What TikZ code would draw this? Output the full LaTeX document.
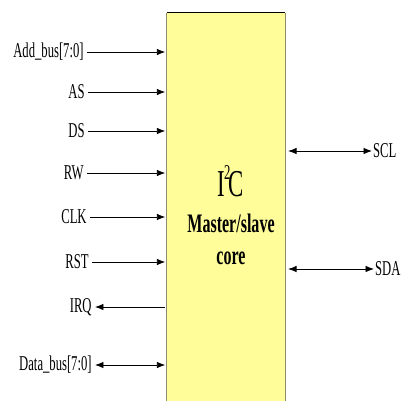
\documentclass[tikz,border=0pt]{standalone}
\usepackage{fontspec}
\setmainfont{Liberation Serif}[FakeStretch=0.6]
\usetikzlibrary{positioning,arrows.meta}
\definecolor{coreyellow}{RGB}{255,253,153}
\definecolor{edgegray}{RGB}{140,140,112}

\begin{document}
\begin{tikzpicture}[x=0.025cm,y=-0.025cm,
  corebox/.style={fill=coreyellow,minimum width=118*0.025cm,minimum height=388*0.025cm,inner sep=0pt},
  sig/.style={font=\fontsize{15}{17}\selectfont,inner sep=2.2pt},
  inarrow/.style={-{Latex[length=6pt,width=4.6pt]},line width=0.6pt},
  outarrow/.style={{Latex[length=6pt,width=4.6pt]}-,line width=0.6pt},
  bidir/.style={{Latex[length=6pt,width=4.6pt]}-{Latex[length=6pt,width=4.6pt]},line width=0.6pt},
  title/.style={font=\fontsize{27}{30}\selectfont},
  corelabel/.style={font=\fontsize{19}{22}\selectfont\bfseries}
]
  \useasboundingbox (0,0) rectangle (401,401);
  \node[corebox] (core) at (226,207) {};
  \draw[line width=0.7pt] (core.north west) -- (core.north east);
  \draw[edgegray,line width=0.7pt] (core.north west) -- (core.south west);
  \draw[edgegray,line width=0.7pt] (core.north east) -- (core.south east);

  \node[title] (ic) at (231,181) {I\kern-1pt\raisebox{0.45em}{\fontsize{15}{15}\selectfont 2}\kern-1pt C};
  \node[corelabel] (ms) at (231,223) {Master/slave};
  \node[corelabel] (cr) at (231,258) {core};

  \node[sig,anchor=east] (addbus) at (87,52) {Add\_bus[7:0]};
  \node[sig,anchor=east] (as) at (88,92) {AS};
  \node[sig,anchor=east] (ds) at (88,131) {DS};
  \node[sig,anchor=east] (rw) at (87,173) {RW};
  \node[sig,anchor=east] (clk) at (90,217) {CLK};
  \node[sig,anchor=east] (rst) at (92,262) {RST};
  \node[sig,anchor=east] (irq) at (95,307) {IRQ};
  \node[sig,anchor=east] (databus) at (95,365) {Data\_bus[7:0]};
  \node[sig,anchor=west,inner xsep=0.6pt] (scl) at (372,151) {SCL};
  \node[sig,anchor=west,inner xsep=0.6pt] (sda) at (374,269) {SDA};

  \draw[inarrow] (addbus.east) -- ([xshift=-1]addbus.east -| core.west);
  \draw[inarrow] (as.east) -- ([xshift=-1]as.east -| core.west);
  \draw[inarrow] (ds.east) -- ([xshift=-1]ds.east -| core.west);
  \draw[inarrow] (rw.east) -- ([xshift=-1]rw.east -| core.west);
  \draw[inarrow] (clk.east) -- ([xshift=-1]clk.east -| core.west);
  \draw[inarrow] (rst.east) -- ([xshift=-1]rst.east -| core.west);
  \draw[outarrow] (irq.east) -- ([xshift=-1]irq.east -| core.west);
  \draw[bidir] (databus.east) -- ([xshift=-1]databus.east -| core.west);
  \draw[bidir] ([xshift=2]scl.west -| core.east) -- (scl.west);
  \draw[bidir] ([xshift=2]sda.west -| core.east) -- (sda.west);
\end{tikzpicture}
\end{document}
